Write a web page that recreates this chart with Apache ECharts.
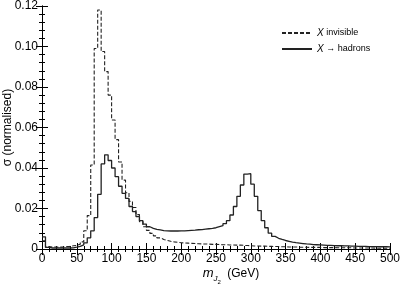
<!DOCTYPE html>
<html><head><meta charset="utf-8">
<script src="https://cdn.jsdelivr.net/npm/echarts@6/dist/echarts.min.js"></script>
<style>html,body{margin:0;padding:0;background:#fff}#c{width:401px;height:284px}</style>
</head><body><div id="c"></div>
<script>
// bin lower edges (GeV), 5 GeV bins
var BIN_WIDTH = 5;
var xTicks = [0,50,100,150,200,250,300,350,400,450,500];
var yTicks = [0,0.02,0.04,0.06,0.08,0.10,0.12];
// X invisible (dashed)
var invisible = [
0.0040,0.0012,0.0009,0.0010,0.0009,0.0010,0.0012,0.0013,0.0016,0.0018,
0.0024,0.0035,0.0090,0.0165,0.0415,0.0990,0.1180,0.0975,0.0876,0.0760,
0.0637,0.0540,0.0430,0.0340,0.0278,0.0235,0.0205,0.0170,0.0135,0.0110,
0.0092,0.0077,0.0065,0.0055,0.0047,0.0042,0.0038,0.0035,0.0033,0.0031,
0.0030,0.0029,0.0028,0.0027,0.0026,0.0025,0.0025,0.0024,0.0023,0.0023,
0.0022,0.0021,0.0021,0.0020,0.0020,0.0019,0.0019,0.0018,0.0017,0.0016,
0.0015,0.0015,0.0014,0.0014,0.0013,0.0013,0.0012,0.0012,0.0011,0.0011,
0.0010,0.0010,0.0010,0.0009,0.0009,0.0009,0.0008,0.0008,0.0008,0.0008,
0.0007,0.0007,0.0007,0.0007,0.0006,0.0006,0.0006,0.0006,0.0006,0.0005,
0.0005,0.0005,0.0005,0.0005,0.0005,0.0004,0.0004,0.0004,0.0004,0.0004
];
// X -> hadrons (solid)
var hadrons = [
0.0060,0.0008,0.0005,0.0005,0.0005,0.0005,0.0005,0.0005,0.0006,0.0009,
0.0013,0.0020,0.0030,0.0055,0.0090,0.0155,0.0270,0.0420,0.0465,0.0437,
0.0400,0.0357,0.0310,0.0275,0.0250,0.0210,0.0185,0.0160,0.0140,0.0123,
0.0110,0.0102,0.0097,0.0094,0.0091,0.0090,0.0089,0.0089,0.0089,0.0090,
0.0090,0.0091,0.0092,0.0093,0.0095,0.0096,0.0098,0.0100,0.0102,0.0105,
0.0110,0.0115,0.0125,0.0140,0.0168,0.0210,0.0260,0.0316,0.0370,0.0372,
0.0320,0.0260,0.0190,0.0140,0.0105,0.0078,0.0062,0.0053,0.0047,0.0042,
0.0038,0.0034,0.0031,0.0029,0.0027,0.0025,0.0024,0.0022,0.0021,0.0020,
0.0019,0.0018,0.0018,0.0017,0.0016,0.0016,0.0015,0.0015,0.0014,0.0014,
0.0013,0.0013,0.0013,0.0012,0.0012,0.0012,0.0011,0.0011,0.0011,0.0010
];
function hist(vals){
  var d = [];
  for (var i=0;i<vals.length;i++) d.push([i*BIN_WIDTH, vals[i]]);
  d.push([vals.length*BIN_WIDTH, vals[vals.length-1]]);
  return d;
}
var FONT = 'Liberation Sans';
var chart = echarts.init(document.getElementById('c'), null, {renderer:'canvas'});
var axisLine = {show:true, lineStyle:{color:'#000', width:1}};
chart.setOption({
  animation:false,
  grid:{left:42, right:11, top:6, bottom:35, containLabel:false, outerBoundsMode:'none'},
  legend:{
    left:276, top:23, orient:'vertical', itemGap:6, itemWidth:30, itemHeight:10,
    itemStyle:{opacity:0},
    textStyle:{fontFamily:FONT, fontSize:9, color:'#000',
      rich:{i:{fontStyle:'italic', fontFamily:FONT, fontSize:10, color:'#000'}}},
    formatter:function(n){ return n==='inv' ? '{i|X} invisible' : '{i|X} \u2192 hadrons'; },
    data:[{name:'inv'},{name:'had'}]
  },
  xAxis:[{
    type:'value', min:0, max:500, interval:50, position:'bottom',
    axisLine:axisLine,
    axisTick:{show:true, inside:true, length:6, lineStyle:{color:'#000'}},
    minorTick:{show:true, splitNumber:5, length:3, lineStyle:{color:'#000'}},
    axisLabel:{fontFamily:FONT, fontSize:12, color:'#000', margin:4, showMinLabel:true, showMaxLabel:true},
    splitLine:{show:false},
    name:'{m|m}{s|J}{ss|2}{n| (GeV)}', nameLocation:'middle', nameGap:18, nameMoveOverlap:false,
    nameTextStyle:{fontFamily:FONT, fontSize:12, color:'#000', padding:[0,0,0,30],
      rich:{m:{fontStyle:'italic', fontSize:13, fontFamily:FONT, color:'#000', verticalAlign:'bottom', padding:[0,0,5,0]},
            s:{fontStyle:'italic', fontSize:8, fontFamily:FONT, color:'#000', verticalAlign:'bottom', padding:[0,0,2,0]},
            ss:{fontSize:6, fontFamily:FONT, color:'#000', verticalAlign:'bottom', padding:[0,3,0,0]},
            n:{fontSize:12, fontFamily:FONT, color:'#000', verticalAlign:'bottom', padding:[0,0,5,0]}}}
  },{
    type:'value', min:0, max:500, interval:50, position:'top',
    axisLine:axisLine,
    axisTick:{show:true, inside:true, length:6, lineStyle:{color:'#000'}},
    minorTick:{show:true, splitNumber:5, length:3, lineStyle:{color:'#000'}},
    axisLabel:{show:false}, splitLine:{show:false}
  }],
  yAxis:[{
    type:'value', min:0, max:0.12, interval:0.02, position:'left',
    axisLine:axisLine,
    axisTick:{show:true, inside:true, length:6, lineStyle:{color:'#000'}},
    minorTick:{show:true, splitNumber:5, length:3, lineStyle:{color:'#000'}},
    axisLabel:{fontFamily:FONT, fontSize:12, color:'#000', margin:4,
      formatter:function(v){ return v===0 ? '0' : v.toFixed(2); }},
    splitLine:{show:false},
    name:'\u03c3 (normalised)', nameLocation:'middle', nameGap:28, nameMoveOverlap:false,
    nameTextStyle:{fontFamily:FONT, fontSize:12, color:'#000'}
  },{
    type:'value', min:0, max:0.12, interval:0.02, position:'right',
    axisLine:axisLine,
    axisTick:{show:true, inside:true, length:6, lineStyle:{color:'#000'}},
    minorTick:{show:true, splitNumber:5, length:3, lineStyle:{color:'#000'}},
    axisLabel:{show:false}, splitLine:{show:false}
  }],
  series:[{
    name:'inv', type:'line', step:'end', data:hist(invisible),
    symbol:'none', showSymbol:false,
    lineStyle:{color:'#222', width:1.1, type:[4,2]}, itemStyle:{color:'#222'}
  },{
    name:'had', type:'line', step:'end', data:hist(hadrons),
    symbol:'none', showSymbol:false,
    lineStyle:{color:'#222', width:1.3, type:'solid'}, itemStyle:{color:'#222'}
  }]
});
</script></body></html>
